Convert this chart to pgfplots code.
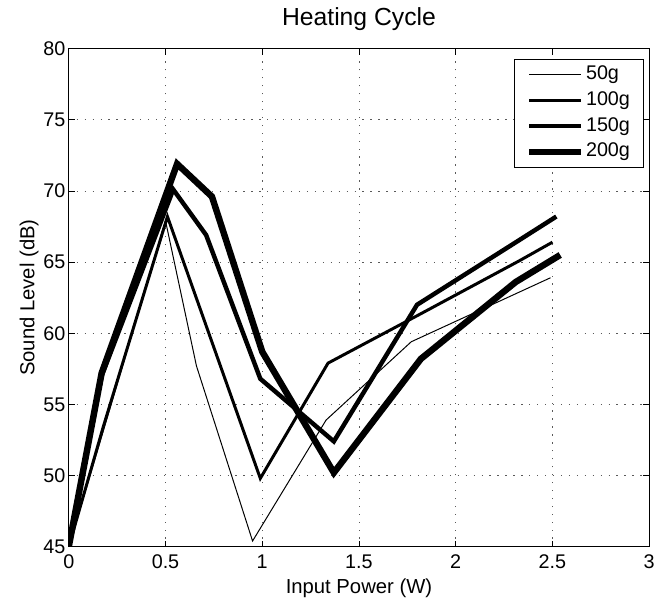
\documentclass[border=0pt]{standalone}
\usepackage{fontspec}
\setmainfont{Liberation Sans}
\usepackage{pgfplots}
\pgfplotsset{compat=1.18}
\begin{document}
\begin{tikzpicture}
\begin{axis}[
    name=ax,
    scale only axis,
    width=585bp, height=502bp,
    xmin=0, xmax=3, ymin=45, ymax=80,
    xtick={0,0.5,1,1.5,2,2.5,3},
    ytick={45,50,55,60,65,70,75,80},
    /pgf/number format/assume math mode=true,
    tick label style={font=\fontsize{20}{24}\selectfont},
    xticklabel style={yshift=-4.5bp},
    label style={font=\fontsize{20.5}{24}\selectfont},
    title style={font=\fontsize{25}{30}\selectfont,
        at={(axis description cs:0.5,1.0339)}, anchor=base},
    xlabel style={at={(axis description cs:0.5,-0.0942)}, anchor=base},
    ylabel style={at={(axis description cs:-0.0592,0.5)}, anchor=base},
    title={Heating Cycle},
    xlabel={Input Power (W)},
    ylabel={Sound Level (dB)},
    tick align=inside,
    major tick length=6bp,
    axis line style={line width=0.8bp},
    major tick style={line width=0.8bp, black},
    grid=major,
    major grid style={black!65, line width=0.8bp, dash pattern=on 1.3bp off 6.7bp},
    legend cell align=left,
    legend image code/.code={\draw[#1] (0bp,0bp) -- (52bp,0bp);},
    legend style={at={(0.9915,0.9795)}, anchor=north east, draw=black,
        line width=0.8bp, inner xsep=12bp, inner ysep=3.5bp,
        font=\fontsize{20}{24}\selectfont,
        nodes={inner sep=2bp, text height=15bp, text depth=5bp},
        row sep=2bp},
]
% 50g
\addplot[black, line width=1bp] coordinates {
    (0,45) (0.18,53.2) (0.50,67.9) (0.66,57.7) (0.95,45.4)
    (1.33,53.9) (1.77,59.4) (2.49,63.9)
};
\addlegendentry{50g}
% 100g
\addplot[black, line width=3bp] coordinates {
    (0,45) (0.18,53.5) (0.51,68.2) (0.99,49.8) (1.34,57.9)
    (1.81,61.3) (2.33,65.1) (2.50,66.4)
};
\addlegendentry{100g}
% 150g
\addplot[black, line width=4.5bp] coordinates {
    (0,45) (0.17,57.0) (0.54,70.1) (0.71,66.9) (0.99,56.8)
    (1.37,52.4) (1.80,62.0) (2.30,66.3) (2.52,68.2)
};
\addlegendentry{150g}
% 200g
\addplot[black, line width=6.5bp] coordinates {
    (0,45) (0.17,57.2) (0.56,71.9) (0.74,69.6) (1.00,58.7)
    (1.37,50.2) (1.82,58.2) (2.31,63.6) (2.54,65.5)
};
\addlegendentry{200g}
\end{axis}
\path (ax.south west) ++(-69.3bp,-52.3bp);
\path (ax.north east) ++(4bp,49bp);
\end{tikzpicture}
\end{document}
